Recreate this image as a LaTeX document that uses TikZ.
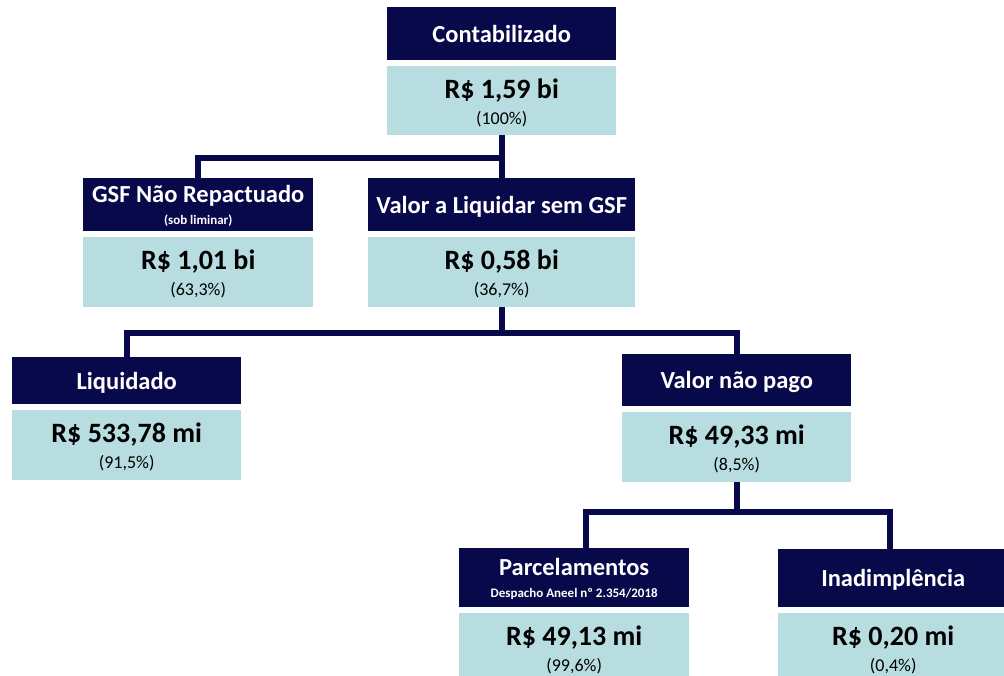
\documentclass[tikz,border=0pt]{standalone}
\usepackage{fontspec}
\setmainfont{Carlito}
\usetikzlibrary{positioning}
\definecolor{navy}{RGB}{8,9,74}
\definecolor{paleteal}{RGB}{183,221,224}

\begin{document}
\begin{tikzpicture}
    [
        x=1pt, y=-1pt, node distance=5pt and 0pt, inner sep=0pt,
        head_node/.style={rectangle, fill=navy, text=white, align=center, text depth=0pt, minimum width=230pt, minimum height=53pt, font=\fontsize{24.5}{26}\selectfont\bfseries},
        value_node/.style={rectangle, fill=paleteal, text=black, align=center, minimum width=230pt, minimum height=70pt},
        link/.style={draw=navy, line width=6pt},
    ]
        \useasboundingbox (0,0) rectangle (1004,675) ;
        \clip (0,0) rectangle (1004,675) ;
        \newcommand{\val}[2]{{\fontsize{28}{29}\selectfont\bfseries\rule{0pt}{25pt}#1}\\[8pt]{\fontsize{18}{19}\selectfont #2}}
        \newcommand{\sub}[1]{\\[-4pt]{\fontsize{13}{13}\selectfont #1}}
        % boxes
        \node[head_node, anchor=north west, minimum width=229pt] (contH) at (387,7) {Contabilizado} ;
        \node[value_node, minimum width=229pt, minimum height=69pt] (contV) [below = of contH] {\val{R\$ 1,59 bi}{(100\%)}} ;
        \node[head_node, anchor=north west] (gsfH) at (83,178) {GSF Não Repactuado\sub{(sob liminar)}} ;
        \node[value_node] (gsfV) [below = of gsfH] {\val{R\$ 1,01 bi}{(63,3\%)}} ;
        \node[head_node, anchor=north west, minimum width=267pt] (vliqH) at (368,178) {Valor a Liquidar sem GSF} ;
        \node[value_node, minimum width=267pt] (vliqV) [below = of vliqH] {\val{R\$ 0,58 bi}{(36,7\%)}} ;
        \node[head_node, anchor=north west, minimum width=229pt, minimum height=47pt] (liqH) at (12,357) {Liquidado} ;
        \node[value_node, minimum width=229pt] (liqV) [below = of liqH] {\val{R\$ 533,78 mi}{(91,5\%)}} ;
        \node[head_node, anchor=north west, minimum width=229pt, minimum height=52pt] (vnpH) at (622,354) {Valor não pago} ;
        \node[value_node, minimum width=229pt] (vnpV) [below = of vnpH] {\val{R\$ 49,33 mi}{(8,5\%)}} ;
        \node[head_node, anchor=north west, minimum height=59pt] (parcH) at (459,548) {Parcelamentos\sub{Despacho Aneel nº 2.354/2018}} ;
        \node[value_node] (parcV) [below = of parcH] {\val{R\$ 49,13 mi}{(99,6\%)}} ;
        \node[head_node, anchor=north west, minimum height=58pt] (inadH) at (778,549) {Inadimplência} ;
        \node[value_node] (inadV) [below = of inadH] {\val{R\$ 0,20 mi}{(0,4\%)}} ;
        % connectors
        \coordinate (j1) at (0,158) ;
        \coordinate (j2) at (vliqV.south |- 0,333) ;
        \coordinate (j3) at (vnpV.south |- 0,512) ;
        \draw[link] (contV.south) -- (vliqH.north) ;
        \draw[link] (gsfH.north) |- (contV.south |- j1) ;
        \draw[link] (vliqV.south) -- (j2) ;
        \draw[link] (liqH.north) |- (j2) -| (vnpH.north) ;
        \draw[link] (vnpV.south) -- (j3) ;
        \draw[link] ([xshift=12pt]parcH.north) |- (j3) -| ([xshift=-3pt]inadH.north) ;
    \end{tikzpicture}
\end{document}
